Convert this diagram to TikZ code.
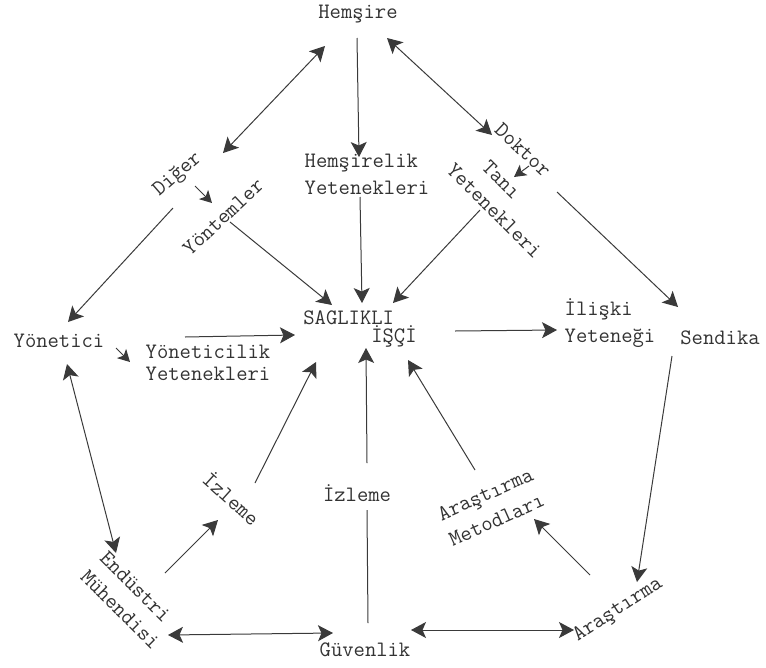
\documentclass[tikz,border=0pt]{standalone}
\usepackage{fontspec}
\usetikzlibrary{arrows.meta}
\definecolor{ink}{HTML}{333333}
\definecolor{wire}{HTML}{3a3a3a}
\begin{document}
\begin{tikzpicture}[x=1pt,y=-1pt,
  lbl/.style={text=ink, font=\ttfamily\fontsize{22}{27}\selectfont, inner sep=0pt},
  two/.style={lbl, align=left},
  con/.style={draw=wire, line width=1pt},
  arr/.style={con, -{Stealth[length=15pt,width=16pt,inset=3.5pt]}},
  sarr/.style={con, -{Stealth[length=12pt,width=13pt,inset=3pt]}},
  barr/.style={con, {Stealth[length=15pt,width=16pt,inset=3.5pt]}-{Stealth[length=15pt,width=16pt,inset=3.5pt]}},
]
\useasboundingbox (0,0) rectangle (766,667);

% nodes
\node[lbl] (hem) at (358,14) {Hemşire};
\node[lbl, rotate=41] (dig) at (178,175) {Diğer};
\node[lbl, rotate=43] (yon) at (223,217) {Yöntemler};
\node[lbl, rotate=-43] (dok) at (523,150) {Doktor};
\node[two, rotate=-45] (tani) at (504,201) {\phantom{Ye}Tanı\\Yetenekleri};
\node[two] (hemy) at (367,174) {Hemşirelik\\Yetenekleri};
\node[lbl] (yonc) at (59,341) {Yönetici};
\node[two, font=\ttfamily\fontsize{22}{22}\selectfont] (yoncy) at (208,363) {Yöneticilik\\Yetenekleri};
\node[two, font=\ttfamily\fontsize{22}{18}\selectfont] (isci) at (360,329) {SAGLIKLI\\\phantom{SAGLIK}İŞÇİ};
\node[two] (ilis) at (610,323) {İlişki\\Yeteneği};
\node[lbl] (sen) at (720,338) {Sendika};
\node[lbl] (izm) at (357,493) {İzleme};
\node[lbl, rotate=-42] (izl) at (232,498) {İzleme};
\node[two, rotate=24, font=\ttfamily\fontsize{22}{28}\selectfont] (armet) at (491,507) {Araştırma\\Metodları};
\node[lbl, rotate=33] (ar) at (618,610) {Araştırma};
\node[two, rotate=-45] (end) at (130,600) {Endüstri\\Mühendisi};
\node[lbl] (guv) at (365,650) {Güvenlik};

% connector ends
\coordinate (a1) at (325,46);  \coordinate (a2) at (223,153);
\coordinate (b1) at (387,38);  \coordinate (b2) at (492,135);
\coordinate (c1) at (357,38);  \coordinate (c2) at (359,157);
\coordinate (d1) at (360,197); \coordinate (d2) at (362,303);
\coordinate (e1) at (230,222); \coordinate (e2) at (332,305);
\coordinate (f1) at (480,210); \coordinate (f2) at (393,303);
\coordinate (g1) at (557,192); \coordinate (g2) at (678,307);
\coordinate (h1) at (455,331); \coordinate (h2) at (557,330);
\coordinate (i1) at (185,337); \coordinate (i2) at (295,335);
\coordinate (j1) at (173,208); \coordinate (j2) at (68,322);
\coordinate (k1) at (195,186); \coordinate (k2) at (212,203);
\coordinate (l1) at (529,166); \coordinate (l2) at (514,177);
\coordinate (m1) at (116,348); \coordinate (m2) at (130,362);
\coordinate (n1) at (67,364);  \coordinate (n2) at (116,553);
\coordinate (o1) at (165,573); \coordinate (o2) at (218,520);
\coordinate (p1) at (255,483); \coordinate (p2) at (316,362);
\coordinate (q1) at (367,463); \coordinate (q2) at (366,348);
\coordinate (r1) at (368,623); \coordinate (r2) at (367,510);
\coordinate (s1) at (475,470); \coordinate (s2) at (408,360);
\coordinate (t1) at (590,575); \coordinate (t2) at (534,519);
\coordinate (u1) at (672,356); \coordinate (u2) at (637,582);
\coordinate (v1) at (168,635); \coordinate (v2) at (333,633);
\coordinate (w1) at (411,630); \coordinate (w2) at (574,630);

% connectors
\draw[barr] (a2) -- (a1);
\draw[barr] (b1) -- (b2);
\draw[arr] (c1) -- (c2);
\draw[arr] (d1) -- (d2);
\draw[arr] (e1) -- (e2);
\draw[arr] (f1) -- (f2);
\draw[arr] (g1) -- (g2);
\draw[arr] (h1) -- (h2);
\draw[arr] (i1) -- (i2);
\draw[arr] (j1) -- (j2);
\draw[sarr] (k1) -- (k2);
\draw[sarr] (l1) -- (l2);
\draw[sarr] (m1) -- (m2);
\draw[barr] (n1) -- (n2);
\draw[arr] (o1) -- (o2);
\draw[arr] (p1) -- (p2);
\draw[arr] (q1) -- (q2);
\draw[con] (r1) -- (r2);
\draw[arr] (s1) -- (s2);
\draw[arr] (t1) -- (t2);
\draw[arr] (u1) -- (u2);
\draw[barr] (v1) -- (v2);
\draw[barr] (w1) -- (w2);
\end{tikzpicture}
\end{document}
